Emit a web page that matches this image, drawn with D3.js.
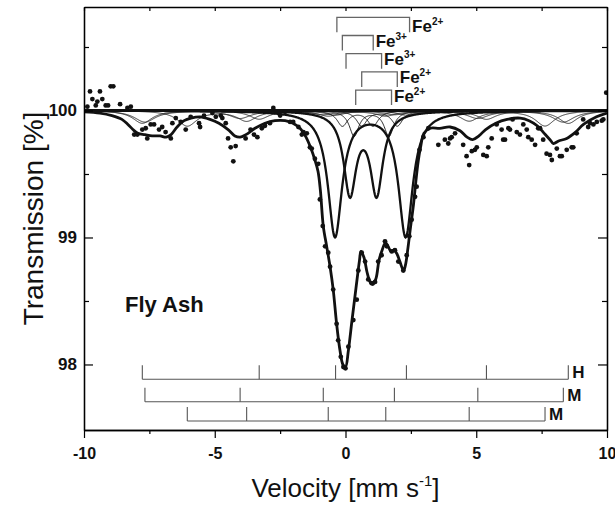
<!DOCTYPE html>
<html><head><meta charset="utf-8">
<script src="https://cdn.jsdelivr.net/npm/d3@7"></script>
<style>
body{margin:0;background:#fff}
svg{display:block}
text{font-family:"Liberation Sans",Arial,Helvetica,sans-serif}
</style>
</head><body>
<svg id="c" width="615" height="506"></svg>
<script>
// ---------- tick values ----------
const xTicks = [-10, -5, 0, 5, 10];
const xMinorTicks = [-7.5, -2.5, 2.5, 7.5];
const yTicks = [98, 99, 100];
const yMinorTicks = [98.5, 99.5, 100.5];

// ---------- measured spectrum (velocity mm/s, transmission %) ----------
const dataV = [-9.87,-9.77,-9.68,-9.55,-9.49,-9.39,-9.30,-9.17,-9.08,-8.98,-8.88,-8.62,-8.34,-8.21,-8.08,-7.96,-7.77,-7.64,-7.58,-7.45,
 -7.32,-7.13,-7.01,-6.88,-6.68,-6.62,-6.49,-6.30,-6.11,-5.92,-5.60,-5.56,-5.41,-5.09,-4.96,-4.77,-4.71,-4.58,-4.49,-4.39,
 -4.29,-4.20,-3.82,-3.63,-3.50,-3.37,-3.20,-3.08,-2.89,-2.76,-2.50,-2.31,-2.12,-2.00,-1.80,-1.67,-1.61,-1.48,-1.36,-1.29,
 -1.17,-1.04,-0.98,-0.87,-0.78,-0.66,-0.59,-0.47,-0.34,-0.28,-0.18,-0.08,0.00,0.11,0.30,0.43,0.49,0.62,0.75,0.87,
 1.00,1.13,1.25,1.38,1.51,1.58,1.77,1.89,2.02,2.21,2.34,2.44,2.53,2.66,2.72,2.83,2.98,3.17,3.55,3.80,
 3.93,4.00,4.06,4.19,4.50,4.63,4.73,4.83,4.95,5.02,5.27,5.40,5.46,5.59,5.78,5.97,6.03,6.10,6.23,6.29,
 6.39,6.55,6.67,6.80,6.93,6.99,7.12,7.25,7.37,7.44,7.56,7.69,7.82,7.89,8.08,8.20,8.27,8.46,8.65,8.71,
 8.84,9.09,9.28,9.35,9.48,9.61,9.80,9.86,9.97];
const dataT = [100.03,100.15,100.09,100.04,100.07,100.15,100.09,100.04,100.04,100.19,100.19,100.05,100.02,100.03,99.81,99.81,99.85,99.86,99.78,99.89,
 99.89,99.85,99.87,99.83,99.78,99.90,99.94,99.91,99.85,99.95,99.90,99.87,99.96,99.98,99.95,99.96,99.94,99.90,99.78,99.71,
 99.60,99.72,99.78,99.85,99.81,99.79,99.86,99.88,99.90,100.02,99.96,99.99,99.91,99.91,99.87,99.81,99.83,99.82,99.71,99.70,
 99.62,99.58,99.30,99.09,98.93,98.88,98.77,98.59,98.32,98.19,98.06,97.98,97.97,98.14,98.35,98.51,98.74,98.88,98.81,98.67,
 98.64,98.65,98.81,98.86,98.97,98.93,98.89,98.90,98.81,98.74,98.86,99.01,99.14,99.32,99.40,99.69,99.79,99.86,99.73,99.77,
 99.74,99.78,99.79,99.82,99.73,99.64,99.57,99.68,99.69,99.71,99.65,99.64,99.71,99.78,99.89,99.85,99.77,99.77,99.86,99.85,
 99.93,99.83,99.81,99.89,99.85,99.79,99.77,99.73,99.86,99.86,99.77,99.66,99.65,99.61,99.70,99.64,99.64,99.69,99.71,99.71,
 99.82,99.93,99.87,99.90,99.89,99.91,99.92,99.93,100.14];

// ---------- total fitted envelope ----------
const fitV = [-10.00,-9.39,-8.93,-8.55,-8.32,-8.13,-7.94,-7.67,-7.40,-7.09,-6.86,-6.67,-6.44,-6.17,-5.91,-5.56,-5.18,-4.84,-4.49,-4.23,
 -4.03,-3.81,-3.46,-3.08,-2.70,-2.31,-2.01,-1.74,-1.51,-1.32,-1.17,-1.05,-0.96,-0.85,-0.72,-0.59,-0.47,-0.34,-0.21,-0.10,
 0.00,0.11,0.25,0.40,0.535,0.59,0.71,0.82,0.94,1.05,1.17,1.28,1.40,1.53,1.63,1.74,1.85,1.97,2.08,2.22,
 2.29,2.39,2.48,2.60,2.69,2.78,2.87,3.00,3.23,3.61,4.00,4.38,4.65,4.86,5.10,5.36,5.75,6.18,6.68,7.02,
 7.33,7.60,7.82,7.95,8.15,8.46,8.80,9.10,9.60,10.00];
const fitT = [99.99,99.98,99.96,99.93,99.89,99.85,99.82,99.81,99.80,99.80,99.79,99.81,99.87,99.92,99.94,99.95,99.93,99.90,99.85,99.80,
 99.79,99.81,99.86,99.90,99.92,99.92,99.90,99.86,99.79,99.70,99.61,99.52,99.37,99.09,98.93,98.77,98.59,98.32,98.11,98.00,
 97.98,98.11,98.35,98.60,98.82,98.89,98.84,98.73,98.65,98.63,98.68,98.82,98.90,98.96,98.93,98.89,98.90,98.87,98.81,98.74,
 98.78,98.92,99.07,99.26,99.44,99.60,99.71,99.82,99.86,99.86,99.87,99.84,99.79,99.77,99.80,99.85,99.90,99.93,99.94,99.92,
 99.88,99.82,99.77,99.74,99.76,99.78,99.83,99.89,99.95,99.98];

// ---------- sextet subspectra: line positions (mm/s) ----------
const sextetH  = [-7.77, -3.30, -0.38, 2.33, 5.39, 8.52];
const sextetM1 = [-7.67, -4.03, -0.85, 1.87, 5.06, 8.33];
const sextetM2 = [-6.05, -3.78, -0.66, 1.54, 4.73, 7.63];
const sextetLabels = ["H", "M", "M"];
const sextetOuterDepth = [0.10, 0.09, 0.12];   // % absorption of lines 1 and 6
const sextetRatio = [3, 2, 1, 1, 2, 3];
const sextetHalfWidth = [0.45, 0.50, 0.45];

// ---------- doublet subspectra ----------
const doubletPos = [[-0.40, 2.30], [0.17, 1.19], [-0.12, 1.05], [0.62, 1.98], [0.33, 1.66]];
const doubletDepth = [0.985, 0.64, 0.12, 0.12, 0.20];
const doubletHalfWidth = [0.33, 0.29, 0.25, 0.25, 0.22];

// ---------- bracket annotations ----------
const bracketLeft  = [-0.33, -0.12, 0.02, 0.62, 0.39];
const bracketRight = [2.45, 1.06, 1.38, 1.98, 1.76];
const bracketIon = ["Fe", "Fe", "Fe", "Fe", "Fe"];
const bracketCharge = ["2+", "3+", "3+", "2+", "2+"];

// ================= drawing =================
const svg = d3.select("#c");
const L = 84, R = 607, T0 = 7, B = 430;
const x = d3.scaleLinear().domain([-10, 10]).range([L, R]);
const y = d3.scaleLinear().domain([97.484, 100.815]).range([B, T0]);

svg.append("defs").append("clipPath").attr("id", "clip")
  .append("rect").attr("x", L).attr("y", T0).attr("width", R - L).attr("height", B - T0);

const plot = svg.append("g").attr("clip-path", "url(#clip)");

function lorentz(pos, depths, hw) {
  return v => 100 - d3.sum(pos, (c, i) => depths[i] / (1 + ((v - c) / hw) ** 2));
}
const grid = d3.range(-10, 10.0001, 0.02);
const lineGen = d3.line().x(d => x(d[0])).y(d => y(d[1]));

// sextets (thin)
[sextetH, sextetM1, sextetM2].forEach((s, k) => {
  const depths = sextetRatio.map(r => r / 3 * sextetOuterDepth[k]);
  const f = lorentz(s, depths, sextetHalfWidth[k]);
  plot.append("path").datum(grid.map(v => [v, f(v)])).attr("d", lineGen)
    .attr("fill", "none").attr("stroke", "#222").attr("stroke-width", 0.9);
});
// doublets
doubletPos.forEach((p, k) => {
  const f = lorentz(p, [doubletDepth[k], doubletDepth[k]], doubletHalfWidth[k]);
  plot.append("path").datum(grid.map(v => [v, f(v)])).attr("d", lineGen)
    .attr("fill", "none").attr("stroke", "#111")
    .attr("stroke-width", k < 2 ? 2.3 : 0.9);
});
// baseline
plot.append("path").datum([[-10, 100], [10, 100]]).attr("d", lineGen)
  .attr("stroke", "#111").attr("stroke-width", 2.8);
// total fit
plot.append("path").datum(fitV.map((v, i) => [v, fitT[i]]))
  .attr("d", d3.line().x(d => x(d[0])).y(d => y(d[1])).curve(d3.curveCatmullRom.alpha(0.5)))
  .attr("fill", "none").attr("stroke", "#111").attr("stroke-width", 2.8);
// data points
plot.selectAll("circle.pt").data(dataV.map((v, i) => [v, dataT[i]])).enter()
  .append("circle").attr("cx", d => x(d[0])).attr("cy", d => y(d[1])).attr("r", 2.4).attr("fill", "#111");

// sextet stick diagrams
const barY = [379.3, 401.7, 421], barH = 14;
[sextetH, sextetM1, sextetM2].forEach((s, k) => {
  const g = svg.append("g").attr("stroke", "#555").attr("stroke-width", 1.1);
  g.append("line").attr("x1", x(d3.min(s))).attr("x2", x(d3.max(s))).attr("y1", barY[k]).attr("y2", barY[k]);
  g.selectAll("line.t").data(s).enter().append("line")
    .attr("x1", d => x(d)).attr("x2", d => x(d)).attr("y1", barY[k] - barH).attr("y2", barY[k]);
  svg.append("text").attr("x", x(d3.max(s)) + 4).attr("y", barY[k] - 1)
    .attr("font-size", 17).attr("font-weight", "bold").attr("fill", "#111").text(sextetLabels[k]);
});

// bracket annotations
const rowY0 = 17.3, rowStep = 18.2, brH = 15;
const labelDy = [15, 11, 11, 11, 12];
bracketLeft.forEach((l, k) => {
  const yy = rowY0 + k * rowStep;
  const x1 = x(l), x2 = x(bracketRight[k]);
  svg.append("path").attr("d", `M${x1},${yy + brH}V${yy}H${x2}V${yy + brH}`)
    .attr("fill", "none").attr("stroke", "#666").attr("stroke-width", 1.3);
  const t = svg.append("text").attr("x", x2 + 2.5).attr("y", yy + labelDy[k])
    .attr("font-size", 17).attr("font-weight", "bold").attr("fill", "#111");
  t.append("tspan").text(bracketIon[k]);
  t.append("tspan").attr("dy", -7).attr("font-size", 10).text(bracketCharge[k]);
});

// axes
function styleAxis(g) {
  g.selectAll(".domain").attr("stroke", "#000").attr("stroke-width", 1.3);
  g.selectAll(".tick line").attr("stroke", "#000").attr("stroke-width", 1.2);
  g.selectAll(".tick text").attr("fill", "#111").attr("font-weight", "bold")
    .attr("font-family", "'Liberation Sans',Arial,sans-serif");
}
svg.append("g").attr("transform", `translate(0,${B})`)
  .call(d3.axisBottom(x).tickValues(xMinorTicks).tickSize(4).tickSizeOuter(0).tickFormat(""))
  .call(styleAxis);
svg.append("g").attr("transform", `translate(0,${B})`)
  .call(d3.axisBottom(x).tickValues(xTicks).tickSize(8).tickSizeOuter(0).tickPadding(10).tickFormat(d => String(d)))
  .call(styleAxis).selectAll(".tick text").attr("font-size", 16);
svg.append("g").attr("transform", `translate(0,${T0})`)
  .call(d3.axisTop(x).tickValues(xTicks.concat(xMinorTicks)).tickSize(-4).tickSizeOuter(0).tickFormat(""))
  .call(styleAxis);
svg.append("g").attr("transform", `translate(${L},0)`)
  .call(d3.axisLeft(y).tickValues(yMinorTicks).tickSize(-5).tickSizeOuter(0).tickFormat(""))
  .call(styleAxis);
svg.append("g").attr("transform", `translate(${L},0)`)
  .call(d3.axisLeft(y).tickValues(yTicks).tickSize(-9).tickSizeOuter(0).tickPadding(7).tickFormat(d => String(d)))
  .call(styleAxis).selectAll(".tick text").attr("font-size", 17);
svg.append("g").attr("transform", `translate(${R},0)`)
  .call(d3.axisRight(y).tickValues(yMinorTicks).tickSize(-5).tickSizeOuter(0).tickFormat(""))
  .call(styleAxis);
svg.append("g").attr("transform", `translate(${R},0)`)
  .call(d3.axisRight(y).tickValues(yTicks).tickSize(-9).tickSizeOuter(0).tickFormat(""))
  .call(styleAxis);

// titles
svg.append("text").attr("transform", `translate(43,${(T0 + B) / 2}) rotate(-90)`)
  .attr("text-anchor", "middle").attr("font-size", 28).attr("fill", "#111").text("Transmission [%]");
const xt = svg.append("text").attr("x", (L + R) / 2).attr("y", 497)
  .attr("text-anchor", "middle").attr("font-size", 26).attr("fill", "#111");
xt.append("tspan").text("Velocity [mm s");
xt.append("tspan").attr("dy", -11).attr("font-size", 15).text("-1");
xt.append("tspan").attr("dy", 11).text("]");

svg.append("text").attr("x", 125).attr("y", 312).attr("font-size", 22).attr("font-weight", "bold")
  .attr("fill", "#111").text("Fly Ash");
</script>
</body></html>
